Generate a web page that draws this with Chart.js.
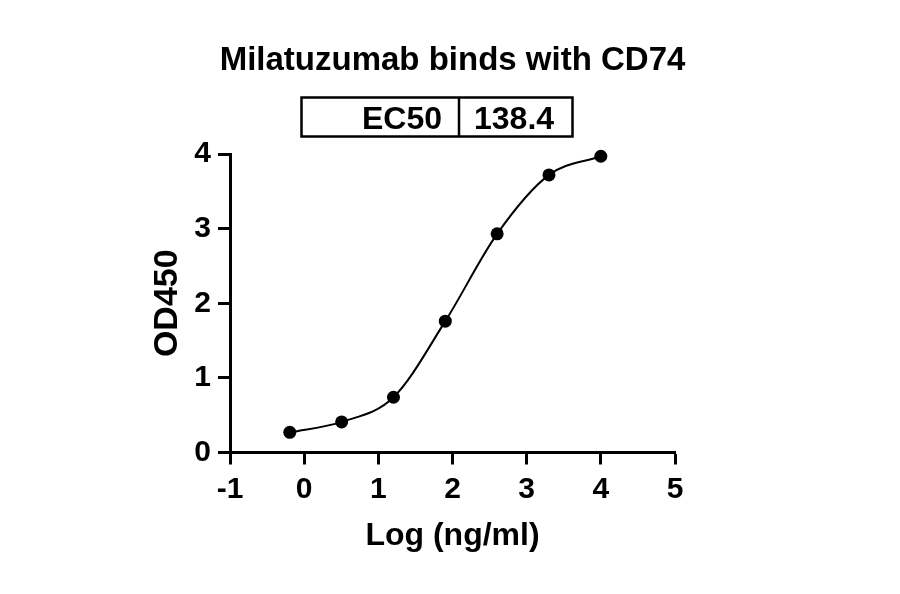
<!DOCTYPE html>
<html>
<head>
<meta charset="utf-8">
<script src="https://cdn.jsdelivr.net/npm/chart.js@4.4.1/dist/chart.umd.min.js"></script>
<style>
  html, body { margin: 0; padding: 0; background: #fff; }
  #wrap { width: 900px; height: 594px; position: relative; }
</style>
</head>
<body>
<div id="wrap"><canvas id="c" width="900" height="594"></canvas></div>
<script>
// ---- data ----
const logConc = [-0.194, 0.505, 1.204, 1.903, 2.602, 3.301, 4.0];
const od450 = [0.27, 0.41, 0.74, 1.76, 2.93, 3.72, 3.97];
const xTicks = [-1, 0, 1, 2, 3, 4, 5];
const yTicks = [0, 1, 2, 3, 4];
const chartTitle = ['Milatuzumab binds with CD74'];
const tableLabels = ['EC50'];
const tableValues = ['138.4'];
const xTitle = ['Log (ng/ml)'];
const yTitle = ['OD450'];

const FONT = '"Liberation Sans", Arial, Helvetica, sans-serif';

const overlay = {
  id: 'overlay',
  afterDraw(chart) {
    const ctx = chart.ctx;
    ctx.save();
    ctx.fillStyle = '#000';
    ctx.strokeStyle = '#000';
    // title
    ctx.font = 'bold 33px ' + FONT;
    ctx.textAlign = 'center';
    ctx.textBaseline = 'alphabetic';
    ctx.fillText(chartTitle[0], 452.5, 70);
    // EC50 table
    ctx.lineWidth = 2.5;
    ctx.strokeRect(301.5, 97.5, 271, 39);
    ctx.beginPath();
    ctx.moveTo(459, 97.5);
    ctx.lineTo(459, 136.5);
    ctx.stroke();
    ctx.font = 'bold 32px ' + FONT;
    ctx.textAlign = 'right';
    ctx.fillText(tableLabels[0], 442, 128.5);
    ctx.textAlign = 'left';
    ctx.fillText(tableValues[0], 474, 128.5);
    ctx.restore();
  }
};

const tickFont = { family: FONT, size: 30, weight: 'bold' };
const titleFont = { family: FONT, size: 32, weight: 'bold' };
const yTitleFont = { family: FONT, size: 34, weight: 'bold' };

new Chart(document.getElementById('c'), {
  type: 'line',
  data: {
    datasets: [{
      data: logConc.map((x, i) => ({ x: x, y: od450[i] })),
      borderColor: '#000',
      borderWidth: 2,
      backgroundColor: '#000',
      pointBackgroundColor: '#000',
      pointBorderColor: '#000',
      pointBorderWidth: 0,
      pointRadius: 6.5,
      cubicInterpolationMode: 'monotone',
      clip: false,
      fill: false
    }]
  },
  options: {
    responsive: false,
    animation: false,
    devicePixelRatio: 1,
    layout: { padding: { left: 143, top: 154, right: 225, bottom: 35 } },
    plugins: { legend: { display: false }, tooltip: { enabled: false }, title: { display: false } },
    scales: {
      x: {
        type: 'linear',
        min: -1, max: 5,
        afterBuildTicks(scale) { scale.ticks = xTicks.map(v => ({ value: v })); },
        afterFit(scale) { scale.height = 106.5; },
        grid: { drawOnChartArea: false, drawTicks: true, tickLength: 12, tickWidth: 3, tickColor: '#000' },
        border: { display: true, width: 3, color: '#000' },
        ticks: { color: '#000', font: tickFont, padding: 7, maxRotation: 0, autoSkip: false },
        title: { display: true, text: xTitle[0], color: '#000', font: titleFont, padding: { top: 4, bottom: 4 } }
      },
      y: {
        type: 'linear',
        min: 0, max: 4,
        afterBuildTicks(scale) { scale.ticks = yTicks.map(v => ({ value: v })); },
        afterFit(scale) { scale.width = 87; },
        grid: { drawOnChartArea: false, drawTicks: true, tickLength: 12, tickWidth: 3, tickColor: '#000' },
        border: { display: true, width: 3, color: '#000' },
        ticks: { color: '#000', font: tickFont, padding: 7, autoSkip: false },
        title: { display: true, text: yTitle[0], color: '#000', font: yTitleFont, padding: { top: 4, bottom: 4 } }
      }
    }
  },
  plugins: [overlay]
});
</script>
</body>
</html>
